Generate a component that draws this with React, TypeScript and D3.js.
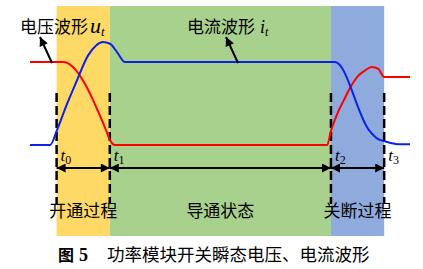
import React from "react";
import * as d3 from "d3";

// ---- data ----
const phaseBounds = [7, 21, 79.2, 93.2]; // t0..t3
const phaseLabels = ["开通过程", "导通状态", "关断过程"];
const phaseColors = ["#FFD966", "#A9D18E", "#8FAADC"];
const boundLabels = ["0", "1", "2", "3"];

const voltageT = [0, 8.7, 20, 21.05, 22.4, 78.2, 79.2, 80.8, 82.6, 83.9, 86.3, 88.2, 90, 91.6, 93.2, 100];
const voltageV = [1, 1, 0.18, 0.06, 0, 0, 0.17, 0.37, 0.54, 0.66, 0.83, 0.9, 0.94, 0.92, 0.82, 0.82];

const currentT = [0, 5.3, 7.1, 9.7, 12.1, 15.3, 17.4, 19.2, 21.05, 22.9, 25, 80.3, 89.2, 91.3, 93.7, 96.8, 100];
const currentV = [0, 0, 0.18, 0.49, 0.75, 1.08, 1.2, 1.24, 1.22, 1.12, 1, 1, 0.18, 0.08, 0.04, 0.01, 0.01];

const caption = "功率模块开关瞬态电压、电流波形";

export default function App() {
  const W = 423, H = 269;
  const x = d3.scaleLinear().domain([0, 100]).range([30, 410]);
  const y = d3.scaleLinear().domain([0, 1]).range([145, 62]);
  const line = d3
    .line<[number, number]>()
    .x((d) => x(d[0]))
    .y((d) => y(d[1]))
    .curve(d3.curveMonotoneX);
  const vPath = line(voltageT.map((t, i) => [t, voltageV[i]]))!;
  const iPath = line(currentT.map((t, i) => [t, currentV[i]]))!;

  const cjk = '"Noto Sans CJK SC", sans-serif';
  const serif = '"Liberation Serif", "Times New Roman", serif';
  const arrowY = 168;
  const bgTop = 6, bgBottom = 236;

  return (
    <svg width={W} height={H} style={{ position: "absolute", left: 0, top: 0, background: "#fff" }}>
      <defs>
        <marker id="ah" viewBox="0 0 10 10" refX="10" refY="5" markerWidth="10" markerHeight="9" markerUnits="userSpaceOnUse" orient="auto-start-reverse">
          <path d="M0,0 L10,5 L0,10 Z" fill="#000" />
        </marker>
      </defs>
      {phaseLabels.map((lab, i) => (
        <rect key={"bg" + i} x={x(phaseBounds[i])} y={bgTop} width={x(phaseBounds[i + 1]) - x(phaseBounds[i])} height={bgBottom - bgTop} fill={phaseColors[i]} />
      ))}
      {phaseBounds.map((b, i) => (
        <line key={"d" + i} x1={x(b)} x2={x(b)} y1={93} y2={204} stroke="#000" strokeWidth={2.5} strokeDasharray="9,4" />
      ))}
      <path d={vPath} fill="none" stroke="#FF0000" strokeWidth={2} />
      <path d={iPath} fill="none" stroke="#0A22E6" strokeWidth={2} />
      {phaseLabels.map((lab, i) => (
        <line key={"a" + i} x1={x(phaseBounds[i])} x2={x(phaseBounds[i + 1])} y1={arrowY} y2={arrowY} stroke="#000" strokeWidth={2} markerStart="url(#ah)" markerEnd="url(#ah)" />
      ))}
      {phaseBounds.map((b, i) => (
        <text key={"t" + i} x={x(b) + 4} y={161} fontFamily={serif} fontStyle="italic" fontSize={17} fill="#000">
          t<tspan fontSize={12} dy={3} fontStyle="normal">{boundLabels[i]}</tspan>
        </text>
      ))}
      {phaseLabels.map((lab, i) => (
        <text key={"l" + i} x={(x(phaseBounds[i]) + x(phaseBounds[i + 1])) / 2} y={217} textAnchor="middle" fontFamily={cjk} fontSize={17} fill="#000">
          {lab}
        </text>
      ))}
      {/* top labels */}
      <text x={20} y={33} fontFamily={cjk} fontSize={17} fill="#000">
        电压波形<tspan fontFamily={serif} fontStyle="italic" fontSize={22} dx={2}>u</tspan>
        <tspan fontFamily={serif} fontStyle="italic" fontSize={13} dy={3}>t</tspan>
      </text>
      <text x={187} y={33} fontFamily={cjk} fontSize={17} fill="#000">
        电流波形<tspan fontFamily={serif} fontStyle="italic" fontSize={18} dx={5}>i</tspan>
        <tspan fontFamily={serif} fontStyle="italic" fontSize={12} dy={3}>t</tspan>
      </text>
      <line x1={52} y1={63} x2={40} y2={37} stroke="#000" strokeWidth={2} markerEnd="url(#ah)" />
      <line x1={238} y1={63} x2={226} y2={37} stroke="#000" strokeWidth={2} markerEnd="url(#ah)" />
      {/* caption */}
      <text x={58} y={261} fontFamily={cjk} fontSize={16} fontWeight="bold" fill="#000">图</text>
      <text x={79} y={261} fontFamily={serif} fontSize={18} fontWeight="bold" fill="#000">5</text>
      <text x={107} y={261} fontFamily={cjk} fontSize={17.5} fontWeight="normal" fill="#000">{caption}</text>
    </svg>
  );
}
